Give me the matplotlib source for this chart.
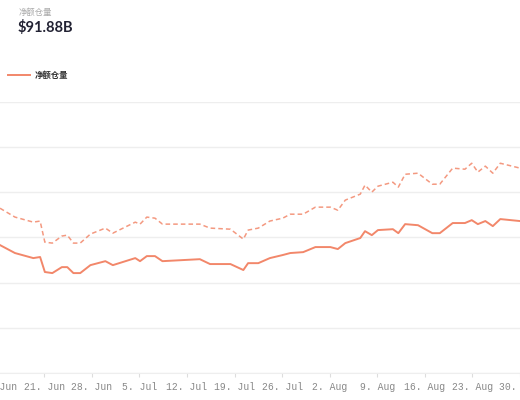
import numpy as np
import pandas as pd
import matplotlib
matplotlib.use("Agg")
import matplotlib.pyplot as plt

plt.rcParams['font.family'] = ['Noto Sans CJK SC', 'DejaVu Sans']

# days since 21 Jun
days = [-6.5, -4.3, -1.6, -0.6, 0.1, 1.2, 2.6, 3.4, 4.3, 5.3, 6.8, 9.0, 10.1,
        13.4, 14.1, 15.1, 16.3, 17.4, 22.9, 24.4, 27.4, 29.3, 30.0, 31.5, 33.2,
        35.1, 36.2, 38.1, 39.9, 42.1, 43.2, 44.3, 46.5, 47.2, 48.2, 49.1, 51.3,
        52.1, 53.1, 55.0, 57.1, 58.2, 60.1, 61.9, 62.9, 63.8, 64.9, 66.0, 67.1, 70.0]
net_oi = [70.8, 66.4, 63.6, 64.2, 55.9, 55.3, 58.6, 58.6, 55.3, 55.3, 59.7, 61.9, 59.7,
          63.6, 61.9, 64.7, 64.7, 61.9, 63.0, 60.3, 60.3, 57.0, 60.8, 60.8, 63.6,
          65.3, 66.4, 66.9, 69.7, 69.7, 68.6, 71.9, 74.7, 78.5, 76.3, 79.1, 79.6,
          77.4, 82.4, 81.8, 77.4, 77.4, 83.0, 83.0, 84.6, 82.4, 84.1, 81.3, 85.2, 84.1]
total_oi = [91.2, 86.3, 83.5, 84.1, 72.4, 71.9, 75.8, 76.3, 71.9, 71.9, 76.9, 80.2, 77.4,
            83.5, 82.4, 86.3, 85.7, 82.4, 82.4, 80.2, 79.6, 74.1, 79.1, 80.2, 84.1,
            85.7, 87.9, 87.9, 91.8, 91.8, 90.1, 95.7, 99.0, 104.0, 100.1, 103.4, 105.6,
            102.9, 110.0, 110.6, 104.5, 104.5, 113.4, 112.8, 116.1, 111.2, 114.5, 110.6, 116.1, 113.4]
tick_days = list(range(-7, 71, 7))

start = pd.Timestamp("2021-06-21")
dates = [start + pd.Timedelta(days=d) for d in days]
ticks = [start + pd.Timedelta(days=d) for d in tick_days]
tick_labels = [f"{t.day}. {t.strftime('%b')}" for t in ticks]

color = '#f2876a'
fig = plt.figure(figsize=(5.2, 4.0), dpi=100)
ax = fig.add_axes([0, 0.0675, 1, 0.6775])
ax.plot(dates, total_oi, color=color, lw=1.1, ls=(0, (3, 2)), alpha=0.85)
ax.plot(dates, net_oi, color=color, lw=1.4)
ax.set_xlim(start + pd.Timedelta(days=-6.5), start + pd.Timedelta(days=70))
ax.set_ylim(0, 150)
ax.set_yticks(range(0, 151, 25))
ax.yaxis.grid(True, color='#eeeeee', lw=1)
ax.tick_params(axis='y', length=0, labelleft=False)
ax.tick_params(axis='x', length=3, color='#dddddd', labelbottom=False)
ax.set_xticks(ticks[1:])
# tick labels drawn as text so the partly visible ones at the edges still show
for t, lab in zip(ticks, tick_labels):
    ax.text(t, -0.035, lab, transform=ax.get_xaxis_transform(), ha='center', va='top',
            family='Liberation Mono', fontsize=7, color='#888888', clip_on=False)
for s in ['top', 'left', 'right']:
    ax.spines[s].set_visible(False)
ax.spines['bottom'].set_color('#eeeeee')

fig.text(0.035, 0.97, "净额仓量", fontsize=6, color='#aaaaaa', va='center')
fig.text(0.033, 0.932, "$91.88B", fontsize=10.5, color='#222233', weight='bold',
         va='center', family='Lato')
fig.add_artist(matplotlib.lines.Line2D([0.015, 0.058], [0.812, 0.812], color=color, lw=1.4))
fig.text(0.066, 0.812, "净额仓量", fontsize=6, color='#333333', weight='bold', va='center')

fig.savefig("out.png", dpi=100)
